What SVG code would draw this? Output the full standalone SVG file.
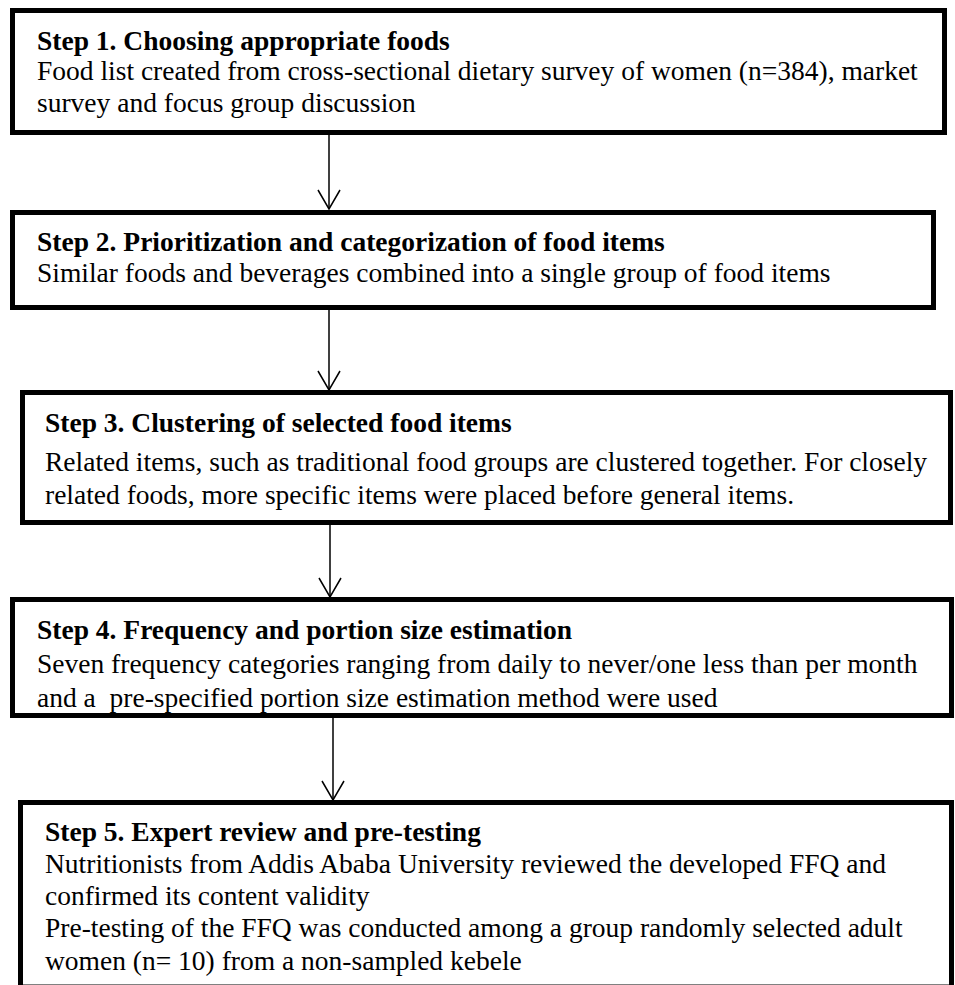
<svg xmlns="http://www.w3.org/2000/svg" width="955" height="985" viewBox="0 0 955 985">
<defs>
<style>
.box{fill:#fff;stroke:#000;stroke-width:5}
text{font-family:"Liberation Serif","Times New Roman",serif;font-size:27.5px;fill:#000}
.t{font-weight:bold}
.c{stroke:#000;stroke-width:1.5;fill:none}
</style>
<marker id="v" markerWidth="24" markerHeight="24" refX="20" refY="12" orient="auto" markerUnits="userSpaceOnUse">
<path d="M1,1 L20,12 L1,23" fill="none" stroke="#000" stroke-width="1.5"/>
</marker>
</defs>
<rect width="955" height="985" fill="#fff"/>
<g id="step1">
<rect class="box" x="12.5" y="10.5" width="932" height="122"/>
<text class="t" x="37" y="50">Step 1. Choosing appropriate foods</text>
<text x="37" y="80">Food list created from cross-sectional dietary survey of women (n=384), market</text>
<text x="37" y="112">survey and focus group discussion</text>
</g>
<g id="step2">
<rect class="box" x="12.5" y="212.5" width="921" height="95"/>
<text class="t" x="37" y="251">Step 2. Prioritization and categorization of food items</text>
<text x="37" y="282">Similar foods and beverages combined into a single group of food items</text>
</g>
<g id="step3">
<rect class="box" x="22.5" y="392.5" width="928" height="130"/>
<text class="t" x="45" y="432">Step 3. Clustering of selected food items</text>
<text x="45" y="471">Related items, such as traditional food groups are clustered together. For closely</text>
<text x="45" y="504">related foods, more specific items were placed before general items.</text>
</g>
<g id="step4">
<rect class="box" x="12.5" y="599.5" width="939" height="116"/>
<text class="t" x="37" y="639">Step 4. Frequency and portion size estimation</text>
<text x="37" y="673">Seven frequency categories ranging from daily to never/one less than per month</text>
<text x="37" y="707" xml:space="preserve">and a  pre-specified portion size estimation method were used</text>
</g>
<g id="step5">
<rect class="box" x="20.5" y="802.5" width="931" height="184.5"/>
<text class="t" x="45" y="841">Step 5. Expert review and pre-testing</text>
<text x="45" y="873">Nutritionists from Addis Ababa University reviewed the developed FFQ and</text>
<text x="45" y="905">confirmed its content validity</text>
<text x="45" y="937">Pre-testing of the FFQ was conducted among a group randomly selected adult</text>
<text x="45" y="970">women (n= 10) from a non-sampled kebele</text>
</g>
<g id="connectors">
<line class="c" x1="329" y1="135" x2="329" y2="209" marker-end="url(#v)"/>
<line class="c" x1="329" y1="310" x2="329" y2="390" marker-end="url(#v)"/>
<line class="c" x1="330" y1="525" x2="330" y2="597" marker-end="url(#v)"/>
<line class="c" x1="333" y1="718" x2="333" y2="800" marker-end="url(#v)"/>
</g>
</svg>
